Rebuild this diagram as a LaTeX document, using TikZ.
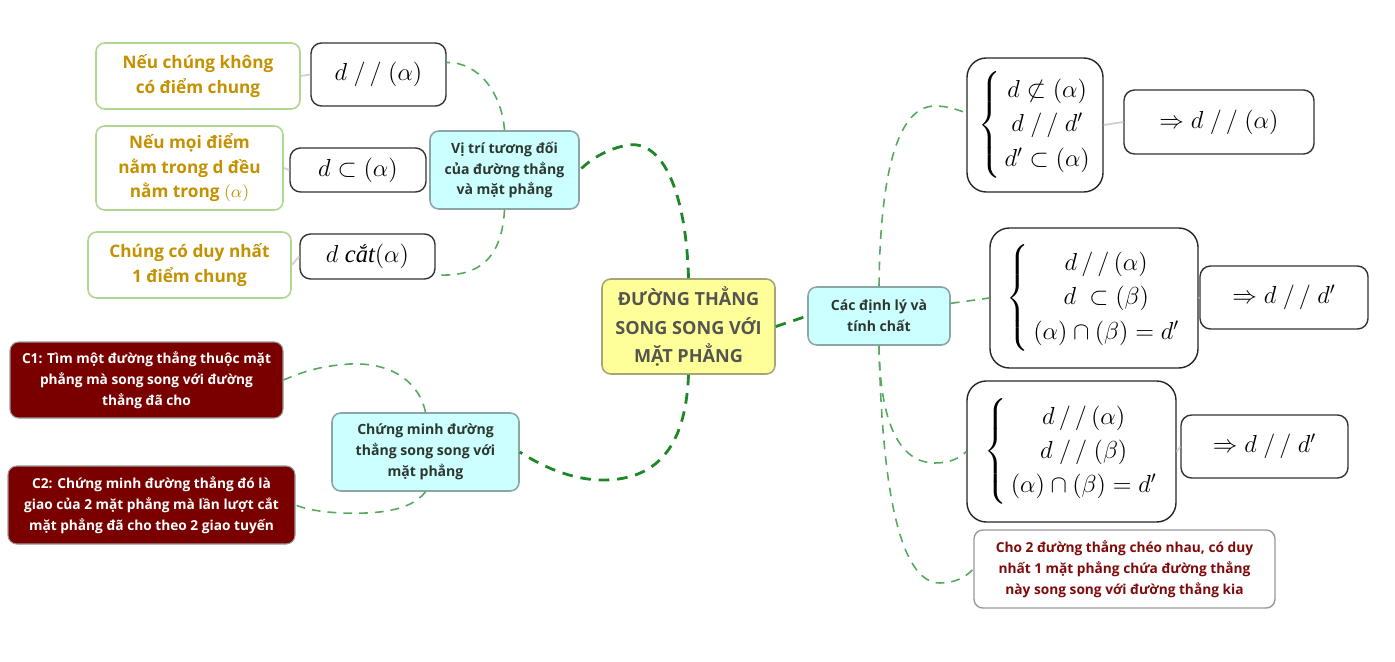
\documentclass[tikz,border=0pt]{standalone}
\usepackage{fix-cm}
\usepackage{amsmath}
\usepackage[no-math]{fontspec}
\setmainfont{Open Sans}
\newfontfamily\serifit{Liberation Serif}
\definecolor{greenD}{RGB}{30,135,40}
\definecolor{greenL}{RGB}{85,170,95}
\definecolor{cyanF}{RGB}{204,255,255}
\definecolor{cyanB}{RGB}{140,165,165}
\definecolor{yelF}{RGB}{255,255,153}
\definecolor{yelB}{RGB}{165,165,120}
\definecolor{goldT}{RGB}{196,146,0}
\definecolor{greenB}{RGB}{175,215,145}
\definecolor{dredF}{RGB}{122,0,0}
\definecolor{redT}{RGB}{128,10,10}
\definecolor{darkT}{RGB}{45,55,45}
\definecolor{centT}{RGB}{85,85,80}
\newcommand\bx[7]{\node[#6,minimum width={(#4-#2)*0.02cm},minimum height={(#5-#3)*0.02cm}] (#1) at ({(#2+#4)/2},{(#3+#5)/2}) {#7};}
\newcommand\pp{\ /\,/\ }
\begin{document}
\begin{tikzpicture}[x=0.02cm,y=-0.02cm,
  base/.style={inner sep=0pt,align=center,rounded corners=5pt},
  goldbox/.style={base,draw=greenB,line width=0.9pt,fill=white,text=goldT,font=\fontsize{9.8}{14}\selectfont\bfseries},
  mathbox/.style={base,draw=black!80,line width=0.8pt,fill=white,font=\fontsize{14}{17}\selectfont,rounded corners=6pt},
  bracebox/.style={base,draw=black!85,line width=0.8pt,fill=white,font=\fontsize{14}{17}\selectfont,rounded corners=11pt},
  cyanbox/.style={base,draw=cyanB,line width=0.9pt,fill=cyanF,text=darkT,font=\fontsize{8}{11.8}\selectfont\bfseries},
  redbox/.style={base,draw=black!40,line width=0.6pt,fill=dredF,text=white,font=\fontsize{7.8}{11.8}\selectfont\bfseries},
  centbox/.style={base,draw=yelB,line width=0.9pt,fill=yelF,text=centT,font=\fontsize{10.3}{16}\selectfont\bfseries},
  notebox/.style={base,draw=black!40,line width=0.8pt,fill=white,text=redT,font=\fontsize{7.8}{11.8}\selectfont\bfseries},
  thickcon/.style={draw=greenD,line width=1.6pt,dash pattern=on 6pt off 4.5pt},
  thincon/.style={draw=greenL,line width=0.9pt,dash pattern=on 5pt off 4pt},
  faint/.style={draw=black!18,line width=1pt}]
\useasboundingbox (0,0) rectangle (1395,662);
% nodes
\bx{c}{602}{279}{775}{374}{centbox}{ĐƯỜNG THẲNG\\SONG SONG VỚI\\MẶT PHẲNG}
\bx{vt}{430}{131}{579}{209}{cyanbox}{Vị trí tương đối\\của đường thẳng\\và mặt phẳng}
\bx{cm}{332}{413}{519}{491}{cyanbox}{Chứng minh đường\\thẳng song song với\\mặt phẳng}
\bx{dl}{808}{287}{950}{345}{cyanbox}{Các định lý và\\tính chất}
\bx{n1}{96}{43}{300}{109}{goldbox}{Nếu chúng không\\có điểm chung}
\bx{n2}{96}{126}{283}{210}{goldbox}{Nếu mọi điểm\\nằm trong d đều\\nằm trong $(\alpha)$}
\bx{n3}{88}{232}{291}{298}{goldbox}{Chúng có duy nhất\\1 điểm chung}
\bx{m1}{311}{43}{446}{106}{mathbox}{$d\pp(\alpha)$}
\bx{m2}{290}{148}{426}{192}{mathbox}{$d\subset(\alpha)$}
\bx{m3}{300}{234}{435}{279}{mathbox}{$d\ \text{\serifit\itshape cắt}(\alpha)$}
\bx{c1}{10}{342}{283}{418}{redbox}{C1: Tìm một đường thẳng thuộc mặt\\phẳng mà song song với đường\\thẳng đã cho}
\bx{c2}{8}{466}{295}{544}{redbox}{C2: Chứng minh đường thẳng đó là\\giao của 2 mặt phẳng mà lần lượt cắt\\mặt phẳng đã cho theo 2 giao tuyến}
\bx{b1}{967}{58}{1103}{192}{bracebox}{$\left\{\renewcommand{\arraystretch}{1.15}\begin{array}{@{\,}c@{}}d\not\subset(\alpha)\\ d\pp d'\\ d'\subset(\alpha)\end{array}\right.$}
\bx{r1}{1124}{90}{1314}{154}{mathbox}{$\Rightarrow d\pp(\alpha)$}
\bx{b2}{990}{228}{1198}{368}{bracebox}{$\left\{\renewcommand{\arraystretch}{1.15}\begin{array}{@{\,}c@{}}d\,/\,/\,(\alpha)\\ d\ \subset(\beta)\\ (\alpha)\cap(\beta)=d'\end{array}\right.$}
\bx{r2}{1200}{266}{1368}{329}{mathbox}{$\Rightarrow d\pp d'$}
\bx{b3}{967}{381}{1176}{522}{bracebox}{$\left\{\renewcommand{\arraystretch}{1.15}\begin{array}{@{\,}c@{}}d\,/\,/\,(\alpha)\\ d\pp(\beta)\\ (\alpha)\cap(\beta)=d'\end{array}\right.$}
\bx{r3}{1181}{415}{1348}{478}{mathbox}{$\Rightarrow d\pp d'$}
\bx{rt}{974}{530}{1275}{608}{notebox}{Cho 2 đường thẳng chéo nhau, có duy\\nhất 1 mặt phẳng chứa đường thẳng\\này song song với đường thẳng kia}
% faint links
\draw[faint] (n1.east) -- (m1.west);
\draw[faint] (n2.east) -- (m2.west);
\draw[faint] (n3.east) -- (m3.west);
\draw[faint] (b1.east) -- (r1.west);
\draw[faint] (b2.east) -- (r2.west);
\draw[faint] (b3.east) -- (r3.west);
% main connectors
\draw[thickcon] (c.north) .. controls (686,190) and (662,140) .. (628,145) .. controls (606,149) and (590,160) .. (vt.east);
\draw[thickcon] (c.south) .. controls (686,440) and (662,480) .. (603,480) .. controls (570,480) and (540,465) .. (cm.east);
\draw[thickcon] (c.east) -- (dl.west);
% sub connectors
\draw[thincon] (vt.north) .. controls (502,95) and (480,62) .. (m1.10);
\draw[thincon] (vt.south) .. controls (502,255) and (482,278) .. (m3.-15);
\draw[thincon] (cm.north) .. controls (420,385) and (395,362) .. (350,364) .. controls (318,366) and (300,373) .. (c1.east);
\draw[thincon] (cm.south) .. controls (410,512) and (375,514) .. (342,513) .. controls (320,512) and (305,509) .. (c2.east);
\draw[thincon] (dl.north) .. controls (880,190) and (893,106) .. (935,106) .. controls (948,106) and (958,110) .. (b1.170);
\draw[thincon] (dl.10) -- (b2.west);
\draw[thincon] (dl.south) .. controls (880,420) and (898,463) .. (935,463) .. controls (950,463) and (960,458) .. (b3.west);
\draw[thincon] (dl.south) .. controls (882,490) and (900,583) .. (940,583) .. controls (955,583) and (966,577) .. (rt.west);
\end{tikzpicture}
\end{document}
